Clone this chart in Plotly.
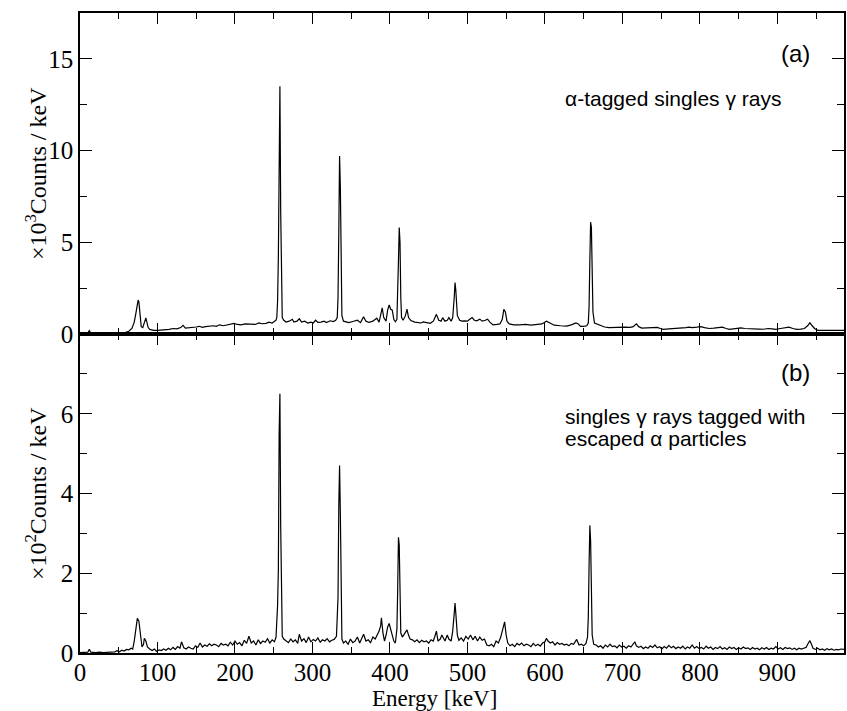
import plotly.graph_objects as go

# ---------------- data ----------------
# Panel (a): alpha-tagged singles gamma rays, x10^3 counts / keV
energy_a = [
    0, 5, 10, 12, 14, 20, 30, 40, 50, 58,
    63, 67, 70, 72, 74, 75, 76, 77, 78, 79,
    81, 83, 85, 86, 88, 90, 95, 100, 105, 110,
    115, 120, 125, 130, 133, 136, 140, 145, 150, 154,
    158, 162, 168, 172, 176, 180, 185, 190, 195, 199,
    203, 208, 213, 218, 222, 226, 231, 235, 240, 244,
    248, 251, 253, 254, 255, 256, 257, 258, 259, 260,
    261, 263, 266, 270, 274, 276, 280, 283, 286, 290,
    294, 298, 301, 304, 307, 311, 315, 318, 323, 327,
    330, 332, 333, 334, 335, 336, 337, 338, 340, 343,
    347, 352, 358, 362, 366, 369, 373, 378, 383, 386,
    388, 390, 392, 395, 397, 399, 401, 403, 405, 407,
    409, 410, 411, 412, 413, 414, 415, 417, 420, 422,
    424, 427, 432, 437, 440, 443, 448, 452, 456, 460,
    463, 466, 468, 471, 474, 476, 479, 481, 483, 484,
    485, 487, 490, 493, 496, 500, 503, 506, 509, 512,
    516, 519, 523, 526, 529, 533, 538, 542, 545, 547,
    549, 551, 554, 560, 567, 575, 582, 590, 596, 602,
    606, 612, 620, 628, 634, 640, 643, 646, 650, 654,
    656, 657, 658, 659, 660, 661, 662, 664, 667, 672,
    677, 683, 690, 697, 703, 710, 714, 718, 721, 725,
    732, 738, 745, 749, 753, 760, 766, 772, 778, 782,
    786, 790, 796, 801, 806, 812, 818, 824, 829, 834,
    838, 843, 848, 853, 858, 864, 870, 876, 882, 888,
    893, 898, 904, 910, 915, 920, 925, 930, 935, 939,
    942, 945, 948, 952, 960, 970, 980, 986,
]
counts_a = [
    0.03, 0.03, 0.05, 0.18, 0.05, 0.03, 0.03, 0.04, 0.05, 0.08,
    0.15, 0.30, 0.65, 1.10, 1.60, 1.85, 1.75, 1.20, 0.70, 0.40,
    0.35, 0.70, 0.88, 0.70, 0.35, 0.25, 0.20, 0.20, 0.22, 0.20,
    0.25, 0.30, 0.28, 0.35, 0.47, 0.32, 0.33, 0.35, 0.38, 0.42,
    0.36, 0.40, 0.42, 0.45, 0.42, 0.50, 0.45, 0.50, 0.52, 0.58,
    0.52, 0.50, 0.55, 0.53, 0.55, 0.52, 0.60, 0.56, 0.58, 0.65,
    0.60, 0.70, 0.75, 0.90, 1.80, 4.20, 11.2, 13.5, 6.70, 1.60,
    0.90, 0.75, 0.65, 0.70, 0.80, 0.65, 0.70, 0.83, 0.65, 0.70,
    0.60, 0.65, 0.60, 0.75, 0.63, 0.65, 0.70, 0.62, 0.72, 0.68,
    0.75, 0.90, 2.00, 5.50, 9.70, 8.00, 3.00, 1.00, 0.70, 0.65,
    0.62, 0.68, 0.75, 0.62, 0.94, 0.70, 0.63, 0.70, 0.86, 0.65,
    1.00, 1.43, 0.90, 0.70, 1.30, 1.58, 1.35, 1.30, 0.80, 0.67,
    0.80, 2.00, 4.00, 5.80, 5.00, 2.00, 0.90, 0.75, 1.00, 1.36,
    0.90, 0.73, 0.65, 0.62, 0.60, 0.66, 0.60, 0.58, 0.70, 1.07,
    0.75, 0.70, 0.89, 0.70, 0.75, 0.89, 0.70, 0.90, 2.00, 2.80,
    2.40, 1.00, 0.75, 0.70, 0.72, 0.70, 0.80, 0.90, 0.75, 0.72,
    0.81, 0.70, 0.75, 0.81, 0.65, 0.50, 0.52, 0.55, 0.80, 1.34,
    1.20, 0.70, 0.55, 0.50, 0.50, 0.52, 0.48, 0.50, 0.55, 0.70,
    0.60, 0.48, 0.45, 0.43, 0.50, 0.60, 0.55, 0.42, 0.42, 0.45,
    0.60, 1.50, 4.00, 6.10, 5.80, 3.50, 1.20, 0.60, 0.55, 0.50,
    0.38, 0.35, 0.37, 0.35, 0.38, 0.36, 0.40, 0.55, 0.40, 0.32,
    0.32, 0.34, 0.36, 0.30, 0.25, 0.28, 0.30, 0.32, 0.30, 0.35,
    0.37, 0.35, 0.37, 0.40, 0.35, 0.30, 0.32, 0.35, 0.37, 0.30,
    0.25, 0.28, 0.30, 0.33, 0.30, 0.28, 0.25, 0.27, 0.26, 0.30,
    0.28, 0.25, 0.30, 0.35, 0.37, 0.30, 0.25, 0.27, 0.30, 0.45,
    0.61, 0.45, 0.30, 0.20, 0.20, 0.20, 0.20, 0.20,
]

# Panel (b): singles gamma rays tagged with escaped alpha particles, x10^2 counts / keV
energy_b = [
    0, 5, 10, 12, 14, 20, 25, 30, 35, 40,
    45, 48, 51, 54, 57, 60, 63, 66, 68, 70,
    72, 74, 76, 78, 80, 82, 83, 85, 87, 90,
    93, 96, 99, 102, 105, 108, 111, 114, 117, 120,
    123, 126, 129, 131, 134, 137, 140, 143, 146, 149,
    152, 155, 158, 161, 164, 167, 170, 173, 176, 179,
    182, 185, 188, 191, 194, 197, 200, 203, 206, 209,
    212, 215, 218, 221, 224, 227, 230, 233, 236, 239,
    242, 245, 248, 251, 253, 255, 256, 257, 258, 259,
    260, 261, 263, 266, 269, 272, 275, 278, 281, 283,
    286, 289, 292, 295, 298, 301, 304, 307, 310, 313,
    316, 319, 322, 325, 328, 331, 333, 334, 335, 336,
    337, 338, 340, 343, 346, 349, 352, 355, 358, 361,
    364, 366, 369, 372, 375, 378, 381, 384, 386, 388,
    389, 391, 393, 395, 397, 399, 401, 403, 405, 407,
    409, 410, 411, 412, 413, 414, 416, 418, 420, 422,
    424, 426, 429, 432, 435, 438, 441, 444, 447, 450,
    453, 456, 458, 460, 462, 465, 467, 469, 471, 474,
    476, 479, 481, 483, 484, 485, 487, 489, 492, 495,
    498, 501, 504, 507, 510, 513, 516, 519, 522, 525,
    528, 531, 534, 537, 540, 543, 546, 548, 550, 552,
    555, 558, 561, 564, 567, 570, 573, 576, 579, 582,
    585, 588, 591, 594, 597, 600, 602, 604, 607, 610,
    613, 616, 619, 622, 625, 628, 631, 634, 637, 641,
    644, 647, 650, 653, 655, 656, 657, 658, 659, 660,
    661, 663, 666, 669, 672, 675, 678, 681, 684, 687,
    690, 693, 696, 699, 702, 705, 708, 711, 714, 716,
    718, 721, 724, 727, 730, 733, 736, 739, 742, 745,
    748, 751, 754, 757, 760, 763, 766, 769, 772, 775,
    778, 781, 784, 787, 790, 793, 796, 799, 802, 805,
    808, 811, 814, 817, 820, 823, 826, 829, 832, 835,
    838, 841, 844, 847, 850, 853, 856, 859, 862, 865,
    868, 871, 874, 877, 880, 883, 886, 889, 892, 895,
    898, 901, 904, 907, 910, 913, 916, 919, 922, 925,
    928, 931, 934, 937, 940, 942, 944, 946, 949, 952,
    955, 958, 961, 964, 967, 970, 973, 976, 979, 982,
    986,
]
counts_b = [
    0.01, 0.01, 0.02, 0.09, 0.02, 0.01, 0.02, 0.01, 0.02, 0.02,
    0.03, 0.06, 0.03, 0.07, 0.05, 0.09, 0.08, 0.12, 0.10, 0.30,
    0.65, 0.87, 0.80, 0.40, 0.15, 0.22, 0.37, 0.30, 0.15, 0.10,
    0.06, 0.10, 0.04, 0.08, 0.06, 0.10, 0.07, 0.12, 0.08, 0.14,
    0.09, 0.16, 0.12, 0.28, 0.13, 0.10, 0.15, 0.12, 0.10, 0.18,
    0.14, 0.25, 0.15, 0.20, 0.17, 0.23, 0.18, 0.22, 0.20, 0.16,
    0.24, 0.20, 0.22, 0.18, 0.27, 0.20, 0.30, 0.22, 0.26, 0.18,
    0.32, 0.24, 0.42, 0.25, 0.30, 0.20, 0.33, 0.24, 0.30, 0.27,
    0.36, 0.25, 0.33, 0.28, 0.40, 1.20, 2.10, 5.50, 6.50, 3.20,
    0.80, 0.42, 0.35, 0.30, 0.26, 0.35, 0.28, 0.33, 0.24, 0.47,
    0.30, 0.36, 0.26, 0.40, 0.28, 0.34, 0.30, 0.38, 0.27, 0.33,
    0.30, 0.36, 0.28, 0.32, 0.34, 0.42, 1.40, 3.70, 4.70, 3.50,
    1.20, 0.35, 0.25, 0.30, 0.22, 0.35, 0.26, 0.30, 0.40, 0.25,
    0.38, 0.47, 0.30, 0.33, 0.26, 0.40, 0.35, 0.45, 0.55, 0.68,
    0.88, 0.50, 0.30, 0.45, 0.65, 0.74, 0.60, 0.45, 0.30, 0.25,
    0.60, 1.60, 2.90, 2.70, 1.40, 0.50, 0.40, 0.45, 0.50, 0.58,
    0.45, 0.35, 0.33, 0.28, 0.33, 0.26, 0.32, 0.28, 0.30, 0.25,
    0.33, 0.30, 0.42, 0.55, 0.30, 0.35, 0.45, 0.35, 0.30, 0.45,
    0.35, 0.30, 0.55, 1.00, 1.25, 1.00, 0.45, 0.32, 0.38, 0.30,
    0.42, 0.35, 0.45, 0.33, 0.42, 0.30, 0.40, 0.32, 0.35, 0.20,
    0.18, 0.22, 0.16, 0.30, 0.25, 0.40, 0.60, 0.78, 0.45, 0.25,
    0.18, 0.22, 0.16, 0.24, 0.20, 0.25, 0.18, 0.22, 0.20, 0.16,
    0.24, 0.18, 0.22, 0.17, 0.25, 0.28, 0.37, 0.30, 0.25, 0.28,
    0.20, 0.26, 0.22, 0.24, 0.20, 0.22, 0.18, 0.24, 0.22, 0.34,
    0.20, 0.22, 0.18, 0.24, 0.40, 0.90, 2.20, 3.20, 2.80, 1.30,
    0.45, 0.22, 0.20, 0.15, 0.18, 0.12, 0.20, 0.15, 0.22, 0.16,
    0.18, 0.13, 0.20, 0.15, 0.17, 0.12, 0.18, 0.15, 0.22, 0.28,
    0.18, 0.14, 0.17, 0.11, 0.15, 0.12, 0.18, 0.14, 0.20, 0.13,
    0.16, 0.10, 0.16, 0.12, 0.19, 0.13, 0.17, 0.11, 0.15, 0.12,
    0.17, 0.10, 0.15, 0.12, 0.20, 0.12, 0.16, 0.11, 0.14, 0.10,
    0.17, 0.12, 0.15, 0.09, 0.14, 0.11, 0.16, 0.10, 0.13, 0.09,
    0.15, 0.11, 0.14, 0.09, 0.13, 0.10, 0.15, 0.11, 0.13, 0.09,
    0.14, 0.10, 0.12, 0.08, 0.13, 0.10, 0.14, 0.09, 0.12, 0.10,
    0.16, 0.10, 0.13, 0.09, 0.14, 0.11, 0.13, 0.09, 0.12, 0.08,
    0.12, 0.10, 0.12, 0.14, 0.25, 0.31, 0.22, 0.12, 0.09, 0.12,
    0.08, 0.10, 0.07, 0.11, 0.08, 0.10, 0.07, 0.09, 0.08, 0.10,
    0.09,
]

x_ticks = [0, 100, 200, 300, 400, 500, 600, 700, 800, 900]
ya_ticks = [0, 5, 10, 15]
yb_ticks = [0, 2, 4, 6]

x_title = "Energy [keV]"
ya_title = "×10<sup>3</sup>Counts / keV"
yb_title = "×10<sup>2</sup>Counts / keV"
label_a_tag = "(a)"
label_a_text = ["α-tagged singles γ rays"]
label_b_tag = "(b)"
label_b_text = ["singles γ rays tagged with", "escaped α particles"]

# ---------------- figure ----------------
W, H = 847, 711
ML, MR, MT, MB = 80, 1, 13, 58
PW, PH = W - ML - MR, H - MT - MB
split = (653 - 334) / PH


def px_x(p):
    return (p - ML) / PW


def px_y(p):
    return (H - MB - p) / PH


fig = go.Figure()
line_style = dict(color="black", width=1.2)
fig.add_trace(go.Scatter(x=energy_a, y=counts_a, mode="lines", line=line_style,
                         xaxis="x", yaxis="y", showlegend=False, hoverinfo="skip"))
fig.add_trace(go.Scatter(x=energy_b, y=counts_b, mode="lines", line=line_style,
                         xaxis="x2", yaxis="y2", showlegend=False, hoverinfo="skip"))

serif = "Liberation Serif"
sans = "Liberation Sans"


def tfont():
    return dict(family=serif, size=25, color="black")


common_x = dict(range=[0, 986], showgrid=False, zeroline=False, showline=True,
                linecolor="black", linewidth=1.5, mirror="ticks", ticks="inside",
                ticklen=11, tickwidth=1.3, tickcolor="black",
                tickvals=x_ticks,
                minor=dict(dtick=50, tick0=0, ticks="inside", ticklen=6,
                           tickwidth=1.2, tickcolor="black", showgrid=False))
common_y = dict(showgrid=False, zeroline=False, showline=True, linecolor="black",
                linewidth=1.5, mirror="ticks", ticks="inside", ticklen=12,
                tickwidth=1.3, tickcolor="black")

fig.update_layout(
    width=W, height=H,
    margin=dict(l=ML, r=MR, t=MT, b=MB),
    paper_bgcolor="white", plot_bgcolor="white",
    font=dict(family=serif, color="black", size=24),
    xaxis=dict(**common_x, domain=[0, 1], anchor="y", showticklabels=False,
               matches="x2"),
    yaxis=dict(**common_y, domain=[split, 1], anchor="x", range=[0, 17.5],
               tickvals=ya_ticks, tickfont=tfont(),
               minor=dict(dtick=2.5, tick0=0, ticks="inside", ticklen=7,
                          tickwidth=1.2, tickcolor="black", showgrid=False)),
    xaxis2=dict(**common_x, domain=[0, 1], anchor="y2", tickfont=tfont(),
                ticklabelstandoff=-4),
    yaxis2=dict(**common_y, domain=[0, split], anchor="x2", range=[0, 8],
                tickvals=yb_ticks, tickfont=tfont(),
                minor=dict(dtick=1, tick0=0, ticks="inside", ticklen=7,
                           tickwidth=1.2, tickcolor="black", showgrid=False)),
)

# axis titles
title_font = dict(family=serif, size=24, color="black")
fig.add_annotation(x=px_x(435), y=px_y(698), xref="paper", yref="paper",
                   text=x_title, showarrow=False, font=dict(family=serif, size=23, color="black"),
                   xanchor="center", yanchor="middle")
fig.add_annotation(x=px_x(36), y=px_y(174), xref="paper", yref="paper",
                   text=ya_title, showarrow=False, font=title_font, textangle=-90,
                   xanchor="center", yanchor="middle")
fig.add_annotation(x=px_x(36), y=px_y(494), xref="paper", yref="paper",
                   text=yb_title, showarrow=False, font=title_font, textangle=-90,
                   xanchor="center", yanchor="middle")

# panel labels
afont_tag = dict(family=sans, size=24, color="black")
afont_txt = dict(family=sans, size=21, color="black")
fig.add_annotation(x=923, y=15.3, xref="x", yref="y", text=label_a_tag,
                   showarrow=False, font=afont_tag, xanchor="center", yanchor="middle")
fig.add_annotation(x=623, y=12.85, xref="x", yref="y", text=label_a_text[0],
                   showarrow=False, font=afont_txt, xanchor="left", yanchor="middle")
fig.add_annotation(x=923, y=7.03, xref="x2", yref="y2", text=label_b_tag,
                   showarrow=False, font=afont_tag, xanchor="center", yanchor="middle")
fig.add_annotation(x=623, y=5.93, xref="x2", yref="y2", text=label_b_text[0],
                   showarrow=False, font=afont_txt, xanchor="left", yanchor="middle")
fig.add_annotation(x=623, y=5.37, xref="x2", yref="y2", text=label_b_text[1],
                   showarrow=False, font=afont_txt, xanchor="left", yanchor="middle")

fig.write_html("out.html")
